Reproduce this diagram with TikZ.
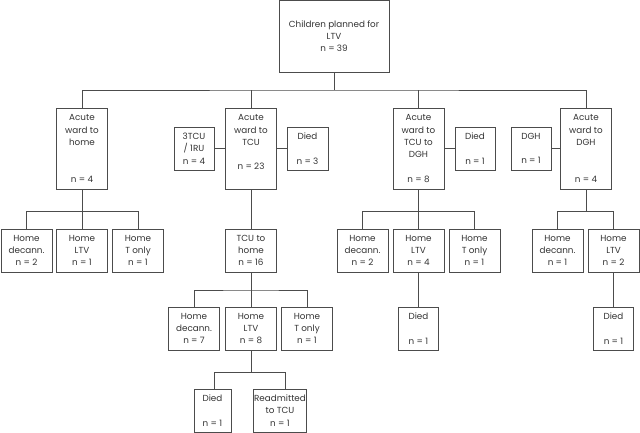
\documentclass[tikz,border=0pt]{standalone}
\usepackage{fontspec}
\setmainfont{Poppins}
\begin{document}
\begin{tikzpicture}[x=1pt,y=-1pt,
  box/.style={draw=black!70, line width=0.9pt, align=center, inner sep=0pt,
    text=black!80, font=\fontsize{8.8}{12.3}\selectfont, minimum height=43pt, minimum width=51pt},
  tall/.style={box, minimum height=81pt},
  narrow/.style={box, minimum width=40pt},
  conn/.style={draw=black!70, line width=0.9pt}]
\useasboundingbox (0,0) rectangle (640,433);
% level 1
\node[box, minimum width=110pt, minimum height=72pt] (top) at (334,36) {Children planned for\\LTV\\n = 39};
% level 2
\node[tall] (awh) at (82,148.5) {Acute\\ward to\\home\\~\\~\\n = 4};
\node[narrow] (tcu3) at (194,148.5) {3TCU\\/ 1RU\\n = 4};
\node[tall] (awt) at (251,148.5) {Acute\\ward to\\TCU\\~\\n = 23\\~};
\node[narrow, minimum width=41pt] (died1) at (307.5,148.5) {Died\\~\\n = 3};
\node[tall] (atd) at (418.5,148.5) {Acute\\ward to\\TCU to\\DGH\\~\\n = 8};
\node[narrow] (died2) at (475,148.5) {Died\\~\\n = 1};
\node[narrow] (dgh1) at (531,148.5) {DGH\\~\\n = 1};
\node[tall] (awd) at (586,148.5) {Acute\\ward to\\DGH\\~\\~\\n = 4};
% level 3
\node[box] (a1) at (26.5,250.5) {Home\\decann.\\n = 2};
\node[box] (a2) at (82,250.5) {Home\\LTV\\n = 1};
\node[box] (a3) at (138,250.5) {Home\\T only\\n = 1};
\node[box] (tch) at (251,250.5) {TCU to\\home\\n = 16};
\node[box] (c1) at (362.5,250.5) {Home\\decann.\\n = 2};
\node[box] (c2) at (418.5,250.5) {Home\\LTV\\n = 4};
\node[box] (c3) at (474.5,250.5) {Home\\T only\\n = 1};
\node[box] (d1) at (557.5,250.5) {Home\\decann.\\n = 1};
\node[box] (d2) at (613.5,250.5) {Home\\LTV\\n = 2};
% level 4
\node[box] (b1) at (194,328.5) {Home\\decann.\\n = 7};
\node[box] (b2) at (251,328.5) {Home\\LTV\\n = 8};
\node[box] (b3) at (307,328.5) {Home\\T only\\n = 1};
\node[narrow] (cdied) at (418.5,328.5) {Died\\~\\n = 1};
\node[narrow] (ddied) at (613.5,328.5) {Died\\~\\n = 1};
% level 5
\node[narrow, minimum width=37pt] (e1) at (212.5,410.5) {Died\\~\\n = 1};
\node[box, minimum width=53pt] (e2) at (280,410.5) {Readmitted\\to TCU\\n = 1};
% junctions
\coordinate (j0) at (334,90);
\coordinate (ja) at (82,211.7);
\coordinate (jb) at (251,290);
\coordinate (jc) at (251,372.7);
\coordinate (jcl) at (214,372.7);
\coordinate (jcr) at (285,372.7);
\coordinate (jd) at (418.5,211.7);
\coordinate (je) at (586,211.7);
% connectors
\draw[conn] (top.south) -- (j0);
\draw[conn] (awh.north) |- (j0) -| (awd.north);
\draw[conn] (awt.north) -- (awt.north |- j0);
\draw[conn] (atd.north) -- (atd.north |- j0);
\draw[conn] (tcu3) -- (awt);
\draw[conn] (awt) -- (died1);
\draw[conn] (atd) -- (died2);
\draw[conn] (dgh1) -- (awd);
\draw[conn] (awh.south) -- (ja);
\draw[conn] (a1.north) |- (ja) -| (a3.north);
\draw[conn] (a2.north) -- (ja);
\draw[conn] (awt.south) -- (tch.north);
\draw[conn] (tch.south) -- (jb);
\draw[conn] (b1.north) |- (jb) -| (b3.north);
\draw[conn] (b2.north) -- (jb);
\draw[conn] (b2.south) -- (jc);
\draw[conn] (e1.north -| jcl) |- (jcr) -- (e2.north -| jcr);
\draw[conn] (atd.south) -- (jd);
\draw[conn] (c1.north) |- (jd) -| (c3.north);
\draw[conn] (c2.north) -- (jd);
\draw[conn] (c2.south) -- (cdied.north);
\draw[conn] (awd.south) -- (je);
\draw[conn] (d1.north) |- (je) -| (d2.north);
\draw[conn] (d2.south) -- (ddied.north);
\end{tikzpicture}
\end{document}
